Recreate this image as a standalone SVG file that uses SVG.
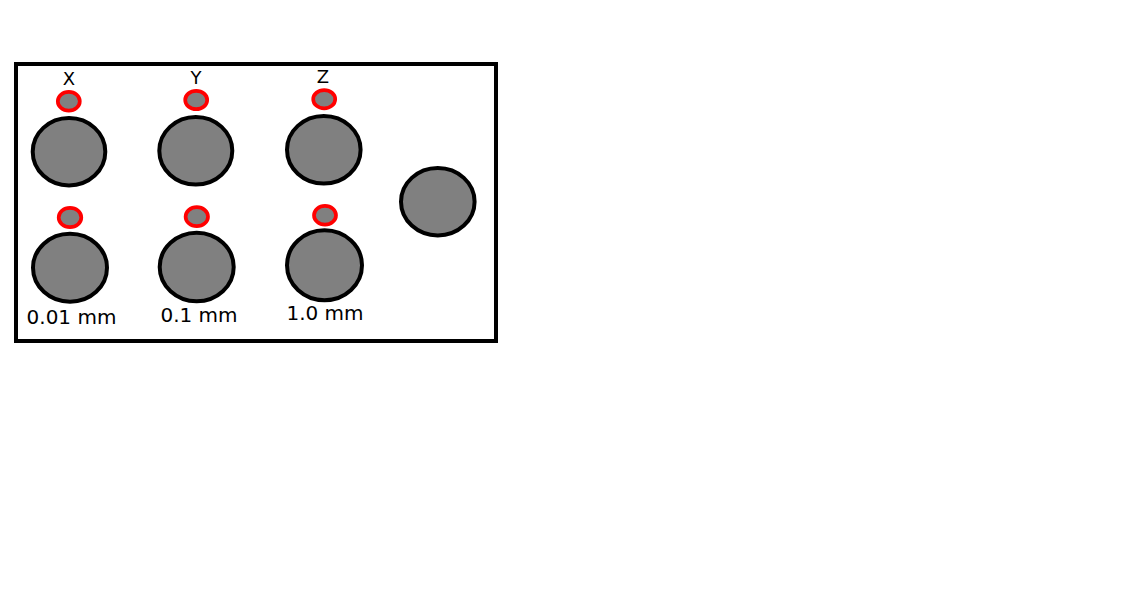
<svg xmlns="http://www.w3.org/2000/svg" width="1130" height="612" viewBox="0 0 1130 612">
<style>
.big{fill:#808080;stroke:#000;stroke-width:4}
.led{fill:#808080;stroke:#f00;stroke-width:3.7}
.t{font-family:"DejaVu Sans",sans-serif;fill:#000;text-anchor:middle}
.ax{font-size:18px}
.lb{font-size:20px}
</style>
<rect width="1130" height="612" fill="#fff"/>
<g id="panel"><rect x="16" y="64" width="480" height="277" fill="#fff" stroke="#000" stroke-width="4"/></g>
<g id="x-top">
<ellipse class="led" cx="68.8" cy="101.2" rx="11" ry="9.4"/>
<ellipse class="big" cx="69" cy="151.7" rx="36.3" ry="33.7"/>
<text class="t ax" x="69" y="84.5">X</text>
</g>
<g id="y-top">
<ellipse class="led" cx="196.2" cy="100" rx="11" ry="9.2"/>
<ellipse class="big" cx="195.8" cy="150.8" rx="36.5" ry="33.8"/>
<text class="t ax" x="196" y="84">Y</text>
</g>
<g id="z-top">
<ellipse class="led" cx="324.2" cy="99.2" rx="11" ry="9.1"/>
<ellipse class="big" cx="323.8" cy="149.8" rx="36.8" ry="33.8"/>
<text class="t ax" x="323" y="83">Z</text>
</g>
<g id="step-001">
<ellipse class="led" cx="70" cy="217.5" rx="11.3" ry="9.6"/>
<ellipse class="big" cx="70" cy="267.7" rx="37" ry="34"/>
<text class="t lb" x="71.5" y="324">0.01 mm</text>
</g>
<g id="step-01">
<ellipse class="led" cx="196.8" cy="216.7" rx="11.2" ry="9.5"/>
<ellipse class="big" cx="196.7" cy="267" rx="37" ry="34.3"/>
<text class="t lb" x="199" y="322">0.1 mm</text>
</g>
<g id="step-1">
<ellipse class="led" cx="325" cy="215.3" rx="11" ry="9.4"/>
<ellipse class="big" cx="324.5" cy="265.3" rx="37.5" ry="35"/>
<text class="t lb" x="325" y="320">1.0 mm</text>
</g>
<g id="button">
<ellipse class="big" cx="437.8" cy="201.7" rx="36.8" ry="33.7"/>
</g>
<g id="connectors"/>
</svg>
